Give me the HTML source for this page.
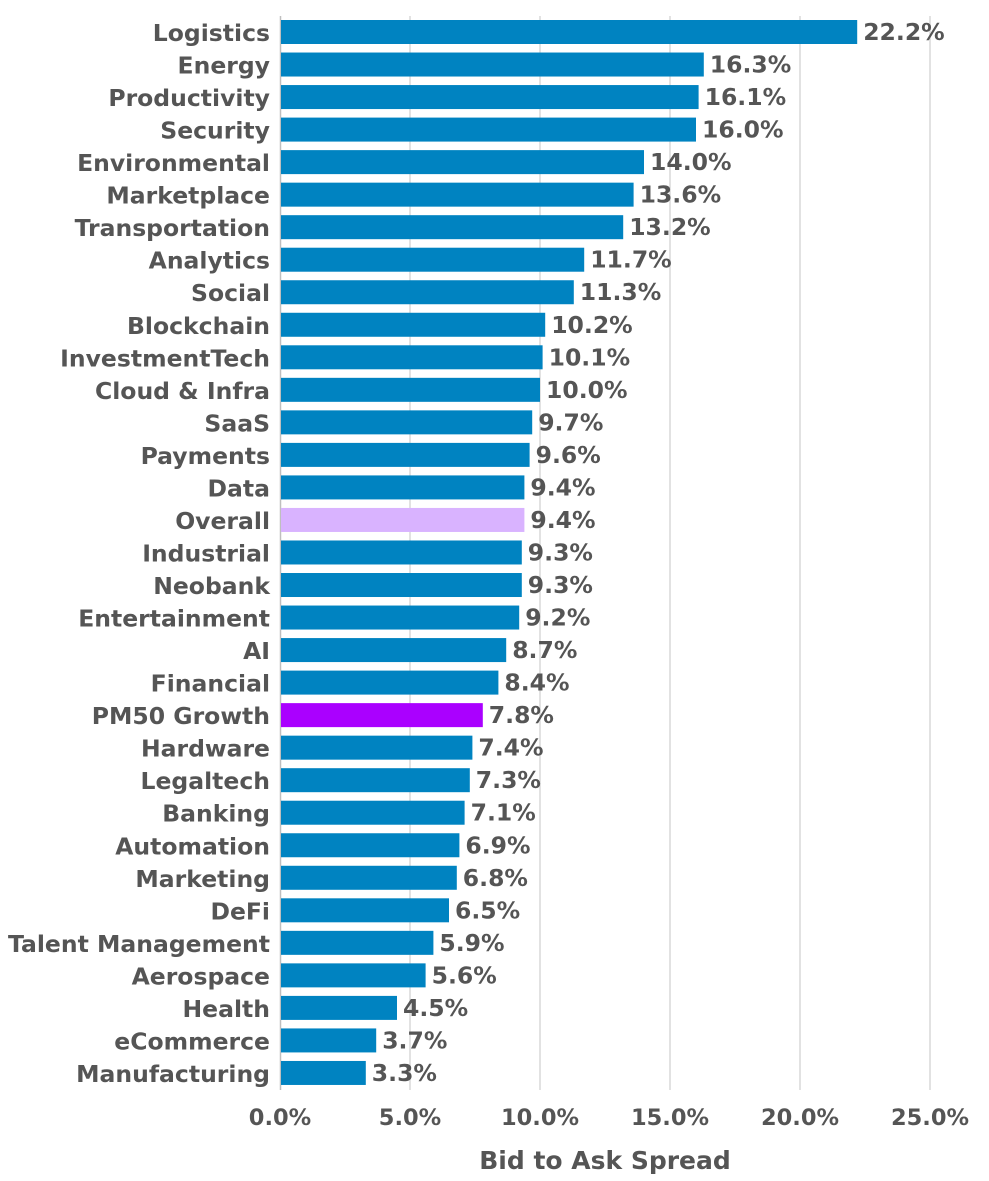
<!DOCTYPE html>
<html><head><meta charset="utf-8"><style>
body{margin:0;background:#fff;}
svg text{font-family:"DejaVu Sans","Liberation Sans",sans-serif;font-weight:bold;fill:#555;}
</style></head><body>
<svg id="c" width="989" height="1176"></svg>
<script>
const categories=["Logistics","Energy","Productivity","Security","Environmental","Marketplace","Transportation","Analytics","Social","Blockchain","InvestmentTech","Cloud & Infra","SaaS","Payments","Data","Overall","Industrial","Neobank","Entertainment","AI","Financial","PM50 Growth","Hardware","Legaltech","Banking","Automation","Marketing","DeFi","Talent Management","Aerospace","Health","eCommerce","Manufacturing"];
const values=[22.2,16.3,16.1,16.0,14.0,13.6,13.2,11.7,11.3,10.2,10.1,10.0,9.7,9.6,9.4,9.4,9.3,9.3,9.2,8.7,8.4,7.8,7.4,7.3,7.1,6.9,6.8,6.5,5.9,5.6,4.5,3.7,3.3];
const ticks=[0,5,10,15,20,25];
const svg=document.getElementById('c');const NS='http://www.w3.org/2000/svg';
const x=v=>280+v*26;const rowY=i=>32+i*32.53;
function mk(t,a){const e=document.createElementNS(NS,t);for(const k in a)e.setAttribute(k,a[k]);svg.appendChild(e);return e;}
ticks.forEach(t=>{
 if(t>0){const g=mk('line',{x1:x(t),x2:x(t),y1:16,y2:1090,stroke:'#d9d9d9','stroke-width':1.5});
 
 }
 const l=mk('text',{x:x(t),y:1125,'text-anchor':'middle','font-size':22.5});l.textContent=t.toFixed(1)+'%';
 
 
});
const ax=mk('line',{x1:280.5,x2:280.5,y1:16,y2:1090,stroke:'#bfbfbf','stroke-width':1.5});


categories.forEach((c,i)=>{
 const y=rowY(i);
 const col=c==='Overall'?'#d9b3ff':c==='PM50 Growth'?'#aa00ff':'#0083c1';
 const b=mk('rect',{x:281,y:y-12,width:x(values[i])-281,height:24,fill:col});
 
 
 const l=mk('text',{x:270,y:y+9,'text-anchor':'end','font-size':23.5});l.textContent=c;
 
 
 const v=mk('text',{x:x(values[i])+6,y:y+8,'font-size':23.5});v.textContent=values[i].toFixed(1)+'%';
 
 
});
const t=mk('text',{x:605,y:1169,'text-anchor':'middle','font-size':25});t.textContent='Bid to Ask Spread';


</script>
</body></html>
